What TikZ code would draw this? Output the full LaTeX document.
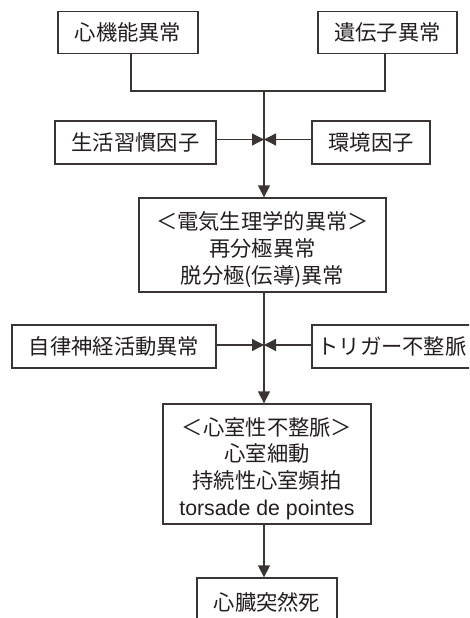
\documentclass[tikz,border=0pt]{standalone}
\usepackage{fontspec}
\setmainfont{Liberation Sans}
\newfontfamily\cjk{Noto Sans CJK JP}
\usetikzlibrary{arrows.meta}
\definecolor{ln}{HTML}{3A3535}
\definecolor{tx}{HTML}{231F20}
\begin{document}
\begin{tikzpicture}[x=1pt,y=-1pt,
 txt/.style={text=tx,inner sep=0pt,align=center,font=\cjk\fontsize{21.3}{26.6}\selectfont},
 box/.style={txt,draw=ln,line width=1.3pt},
 conn/.style={draw=ln,line width=1.3pt},
 arr/.style={conn,-{Triangle[length=12pt,width=12pt]}}]
\clip (0,0) rectangle (469,618);
\fill[white] (0,0) rectangle (469,618);
\node[box,minimum width=140pt,minimum height=42pt] (A) at (128,32.5) {心機能異常};
\node[box,minimum width=139pt,minimum height=42pt] (B) at (387.5,32.5) {遺伝子異常};
\node[box,minimum width=161pt,minimum height=43pt] (C) at (135.5,142.5) {生活習慣因子};
\node[box,minimum width=118pt,minimum height=43pt] (D) at (371,142.5) {環境因子};
\node[box,minimum width=247pt,minimum height=94pt] (E) at (262.5,245) {};
\node[txt] (Et) at ([yshift=-4.5pt]E.center) {＜電気生理学的異常＞\\再分極異常\\脱分極(伝導)異常};
\node[box,minimum width=204pt,minimum height=43pt] (F) at (114,346.5) {自律神経活動異常};
\node[box,minimum width=160pt,minimum height=43pt] (G) at (392,346.5) {トリガー不整脈};
\node[box,minimum width=208pt,minimum height=120pt] (H) at (267,464) {};
\node[txt] (Ht) at ([yshift=-4.5pt]H.center) {＜心室性不整脈＞\\心室細動\\持続性心室頻拍\\{\rmfamily torsade de pointes}};
\node[box,minimum width=140pt,minimum height=48pt] (I) at (267,602) {心臓突然死};
\coordinate (jl) at (131,91);
\coordinate (jr) at (385,91);
\coordinate (jm) at (264,91);
\coordinate (m1) at (264,139.5);
\coordinate (m2) at (264,345);
\draw[conn] (A.south -| jl) -- (jl) -- (jr) -- (B.south -| jr);
\draw[arr] (jm) -- (E.north -| jm);
\draw[arr] (C.east |- m1) -- (m1);
\draw[arr] (D.west |- m1) -- (m1);
\draw[arr] (E.south -| jm) -- (H.north -| jm);
\draw[arr] (F.east |- m2) -- (m2);
\draw[arr] (G.west |- m2) -- (m2);
\draw[arr] (H.south -| jm) -- (I.north -| jm);
\end{tikzpicture}
\end{document}
